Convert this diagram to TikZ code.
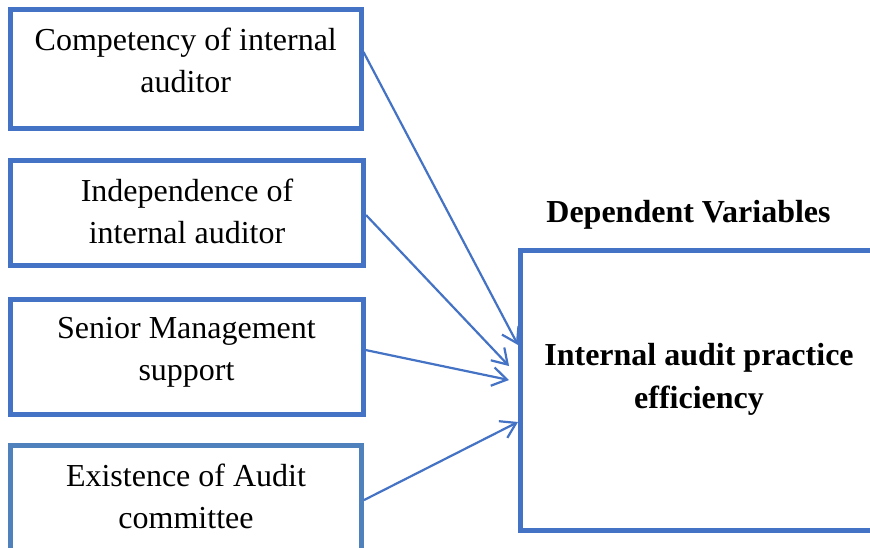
\documentclass[tikz,border=0pt]{standalone}
\usepackage{fontspec}
\setmainfont{Liberation Serif}
\usetikzlibrary{arrows.meta}
\definecolor{wblue}{HTML}{4472C4}
\definecolor{wbluetwo}{HTML}{4F81BD}
\begin{document}
\begin{tikzpicture}[x=0.75pt,y=-0.75pt,
  box/.style={draw=wblue, line width=3.75pt, rectangle, inner sep=0pt, fill=white},
  txt/.style={font=\fontsize{24}{31}\selectfont, align=center, inner sep=0pt},
  btxt/.style={font=\fontsize{24}{32}\selectfont\bfseries, align=center, inner sep=0pt},
  arr/.style={draw=wblue, line width=1.65pt, -{Straight Barb[length=11pt,width=14pt]}}]
\useasboundingbox (0,0) rectangle (870,547);
\clip (0,0) rectangle (870,547);
\fill[white] (0,0) rectangle (870,547);
% boxes
\node[box, minimum width=262.9pt, minimum height=89.25pt] (b1) at (185.75,69) {};
\node[box, minimum width=264.75pt, minimum height=78.75pt] (b2) at (187,213) {};
\node[box, minimum width=264.4pt, minimum height=86.25pt] (b3) at (186.75,357) {};
\node[box, draw=wbluetwo, minimum width=263.25pt, minimum height=89.6pt] (b4) at (186,505.25) {};
\node[box, minimum width=269.6pt, minimum height=210pt] (dv) at (700.25,390.5) {};
% texts
\node[txt, anchor=base] (t1) at (185.75,92) {Competency of internal\\auditor};
\node[txt, anchor=base] (t2) at (187,243) {Independence of\\internal auditor};
\node[txt, anchor=base] (t3) at (186.5,380) {Senior Management\\support};
\node[txt, anchor=base] (t4) at (186,528) {Existence of Audit\\committee};
\node[btxt, anchor=base] (t5) at (699,408) {Internal audit practice\\efficiency};
\node[btxt, anchor=base] (hd) at (688.5,222) {Dependent Variables};
% arrows
\draw[arr] ([yshift=12.75pt]b1.east) -- ([yshift=34.1pt]dv.west);
\draw[arr, shorten >=9.8pt] ([yshift=-1.5pt]b2.east) -- ([yshift=11.25pt]dv.west);
\draw[arr, shorten >=6.9pt] ([yshift=5.25pt]b3.east) -- ([yshift=6.45pt]dv.west);
\draw[arr] ([yshift=3.9pt]b4.east) -- ([yshift=-23.6pt]dv.west);
\end{tikzpicture}
\end{document}
